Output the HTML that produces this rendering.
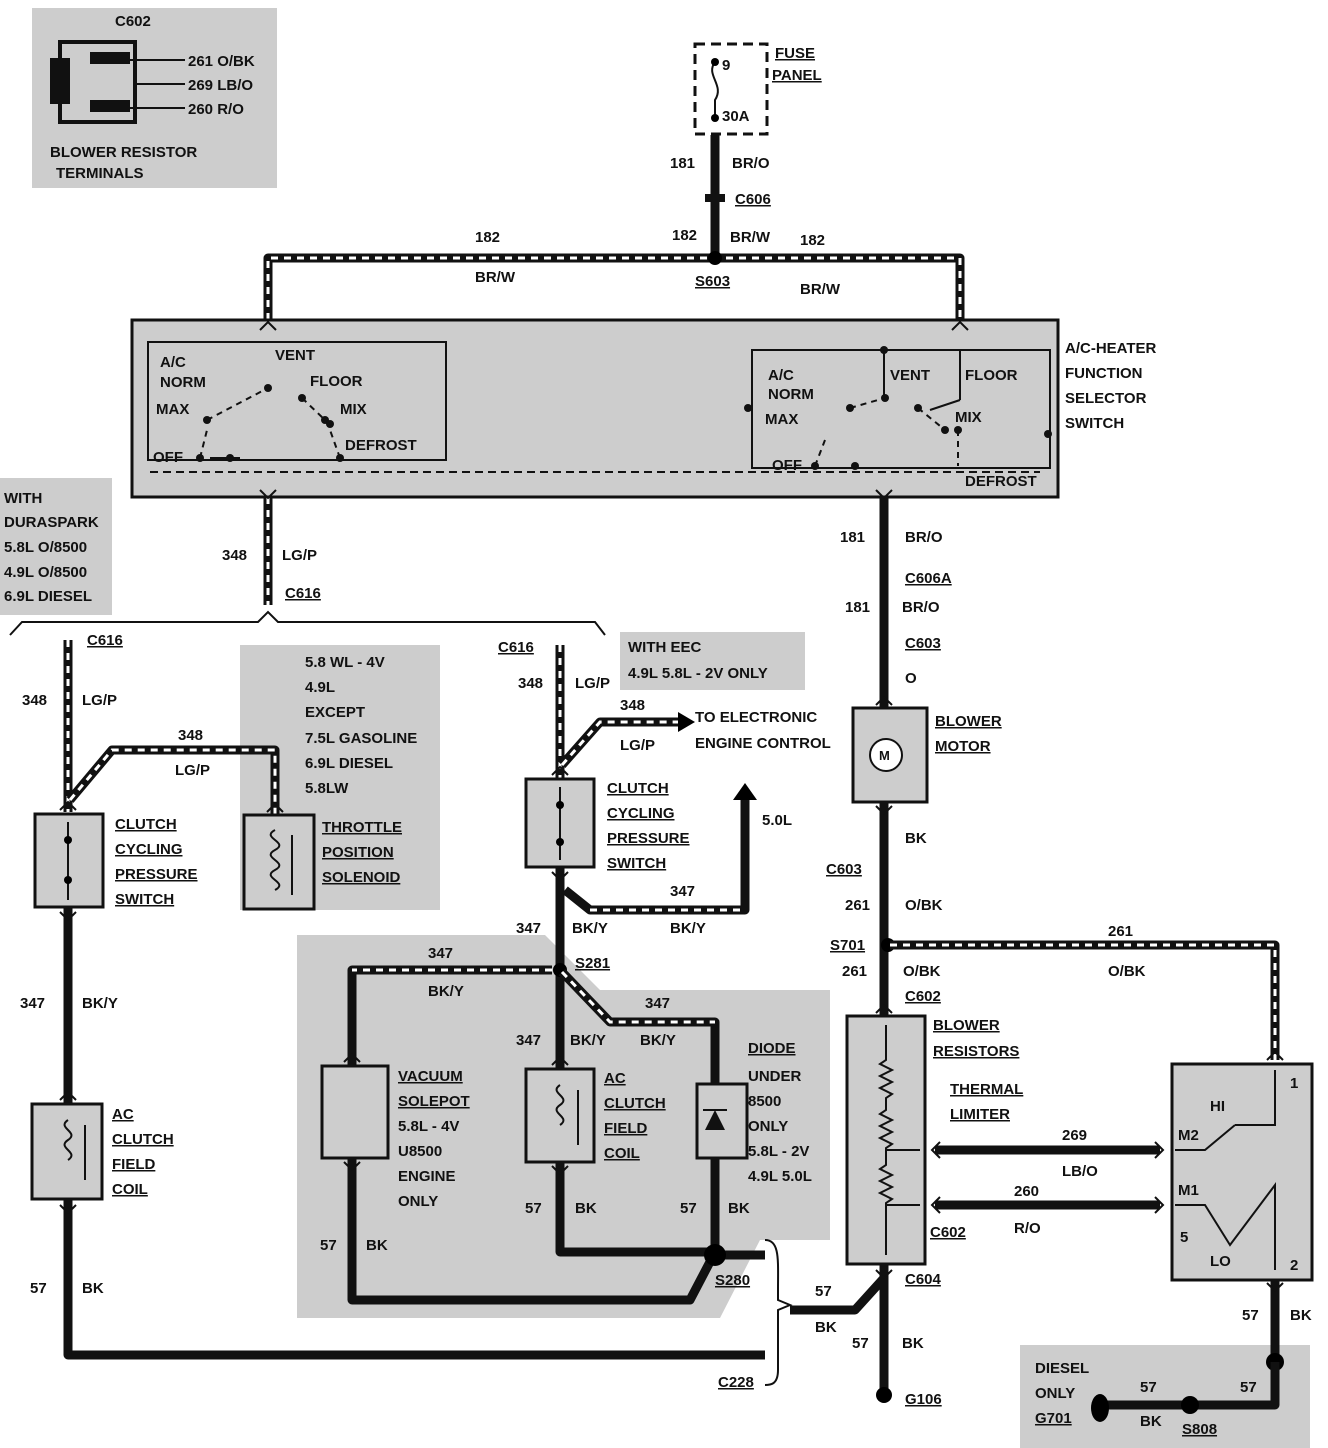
<!DOCTYPE html>
<html><head><meta charset="utf-8"><style>
html,body{margin:0;padding:0;background:#fff;}
svg{display:block;}
text{font-family:"Liberation Sans",sans-serif;font-weight:bold;font-size:15px;fill:#111;}
.u{text-decoration:underline;}
.w{fill:none;stroke:#111;stroke-width:9;stroke-linejoin:round;}
.s{fill:none;stroke:#fff;stroke-width:3;stroke-dasharray:7 6;}
.t{fill:none;stroke:#111;stroke-width:2;}
.sh{fill:#cdcdcd;}
.bx{fill:#cdcdcd;stroke:#111;stroke-width:3;}
</style></head><body>
<svg width="1328" height="1448" viewBox="0 0 1328 1448">
<rect class="sh" x="32" y="8" width="245" height="180"/>
<rect class="sh" x="0" y="478" width="112" height="137"/>
<rect class="sh" x="240" y="645" width="200" height="265"/>
<rect class="sh" x="620" y="632" width="185" height="58"/>
<path class="sh" d="M297 935 L545 935 L600 990 L830 990 L830 1240 L760 1240 L720 1318 L297 1318 Z"/>
<rect class="sh" x="1020" y="1345" width="290" height="103"/>
<rect x="60" y="42" width="75" height="80" fill="none" stroke="#111" stroke-width="4"/>
<rect x="50" y="58" width="20" height="46" fill="#111"/>
<rect x="90" y="52" width="40" height="12" fill="#111"/><rect x="90" y="100" width="40" height="12" fill="#111"/>
<line class="t" x1="130" y1="60" x2="185" y2="60"/><line class="t" x1="135" y1="84" x2="185" y2="84"/><line class="t" x1="130" y1="108" x2="185" y2="108"/>
<text x="115" y="26">C602</text>
<text x="188" y="66">261 O/BK</text><text x="188" y="90">269 LB/O</text><text x="188" y="114">260 R/O</text>
<text x="50" y="157">BLOWER RESISTOR</text><text x="56" y="178">TERMINALS</text>
<rect x="695" y="44" width="72" height="90" fill="none" stroke="#111" stroke-width="3" stroke-dasharray="10 6"/>
<path d="M715 62 C705 75,725 85,715 100 L715 118" class="t"/>
<circle cx="715" cy="62" r="4"/><circle cx="715" cy="118" r="4"/>
<text x="722" y="70">9</text><text x="722" y="121">30A</text>
<text class="u" x="775" y="58">FUSE</text><text class="u" x="772" y="80">PANEL</text>
<line class="w" x1="715" y1="135" x2="715" y2="258"/>
<text x="670" y="168">181</text><text x="732" y="168">BR/O</text>
<rect x="705" y="194" width="20" height="8" fill="#111"/>
<text class="u" x="735" y="204">C606</text>
<text x="672" y="240">182</text><text x="730" y="242">BR/W</text>
<path class="w" d="M268 320 L268 258 L960 258 L960 320"/>
<path class="s" d="M268 320 L268 258 L960 258 L960 320"/>
<circle cx="715" cy="258" r="7"/>
<text x="475" y="242">182</text><text x="475" y="282">BR/W</text>
<text class="u" x="695" y="286">S603</text>
<text x="800" y="245">182</text><text x="800" y="294">BR/W</text>
<rect class="bx" x="132" y="320" width="926" height="177"/>
<rect x="148" y="342" width="298" height="118" fill="none" stroke="#111" stroke-width="2"/>
<rect x="752" y="350" width="298" height="118" fill="none" stroke="#111" stroke-width="2"/>
<text x="160" y="367">A/C</text><text x="160" y="387">NORM</text><text x="156" y="414">MAX</text><text x="153" y="462">OFF</text>
<text x="275" y="360">VENT</text><text x="310" y="386">FLOOR</text><text x="340" y="414">MIX</text><text x="345" y="450">DEFROST</text>
<text x="768" y="380">A/C</text><text x="768" y="399">NORM</text><text x="765" y="424">MAX</text><text x="772" y="470">OFF</text>
<text x="890" y="380">VENT</text><text x="965" y="380">FLOOR</text><text x="955" y="422">MIX</text><text x="965" y="486">DEFROST</text>
<path class="t" stroke-dasharray="8 5" d="M150 472 L1040 472"/>
<path class="t" stroke-dasharray="6 5" d="M207 420 L268 388 M302 398 L325 420 M200 458 L207 430 M340 458 L330 430 M850 408 L885 398 M918 408 L945 430 M815 466 L825 440 M958 430 L958 466"/>
<path class="t" d="M884 350 L884 398 M960 350 L960 400 M960 400 L930 410 M210 458 L240 458"/>
<g fill="#111"><circle cx="207" cy="420" r="4"/><circle cx="268" cy="388" r="4"/><circle cx="302" cy="398" r="4"/><circle cx="325" cy="420" r="4"/><circle cx="200" cy="458" r="4"/><circle cx="230" cy="458" r="4"/><circle cx="340" cy="458" r="4"/><circle cx="330" cy="424" r="4"/>
<circle cx="850" cy="408" r="4"/><circle cx="885" cy="398" r="4"/><circle cx="918" cy="408" r="4"/><circle cx="945" cy="430" r="4"/><circle cx="815" cy="466" r="4"/><circle cx="855" cy="466" r="4"/><circle cx="748" cy="408" r="4"/><circle cx="1048" cy="434" r="4"/><circle cx="884" cy="350" r="4"/><circle cx="958" cy="430" r="4"/></g>
<text x="1065" y="353">A/C-HEATER</text><text x="1065" y="378">FUNCTION</text><text x="1065" y="403">SELECTOR</text><text x="1065" y="428">SWITCH</text>
<path class="w" d="M268 497 L268 605"/><path class="s" d="M268 497 L268 605"/>
<text x="222" y="560">348</text><text x="282" y="560">LG/P</text><text class="u" x="285" y="598">C616</text>
<text x="4" y="503">WITH</text><text x="4" y="527">DURASPARK</text><text x="4" y="552">5.8L O/8500</text><text x="4" y="577">4.9L O/8500</text><text x="4" y="601">6.9L DIESEL</text>
<path class="t" d="M10 635 L22 622 L258 622 L268 612 L278 622 L595 622 L605 635"/>
<path class="w" d="M68 640 L68 812"/><path class="s" d="M68 640 L68 812"/>
<text class="u" x="87" y="645">C616</text><text x="22" y="705">348</text><text x="82" y="705">LG/P</text>
<path class="w" d="M70 800 L112 750 L275 750 L275 815"/><path class="s" d="M70 800 L112 750 L275 750 L275 815"/>
<text x="178" y="740">348</text><text x="175" y="775">LG/P</text>
<rect class="bx" x="35" y="814" width="68" height="93"/>
<path class="t" d="M68 822 L68 900"/><circle cx="68" cy="840" r="4"/><circle cx="68" cy="880" r="4"/>
<text class="u" x="115" y="829">CLUTCH</text><text class="u" x="115" y="854">CYCLING</text><text class="u" x="115" y="879">PRESSURE</text><text class="u" x="115" y="904">SWITCH</text>
<rect class="bx" x="244" y="815" width="70" height="94"/>
<path class="t" d="M275 830 c-15 8,15 12,0 20 c-15 8,15 12,0 20 c-15 8,15 12,0 20"/>
<line class="t" x1="292" y1="835" x2="292" y2="895"/>
<text class="u" x="322" y="832">THROTTLE</text><text class="u" x="322" y="857">POSITION</text><text class="u" x="322" y="882">SOLENOID</text>
<text x="305" y="667">5.8 WL - 4V</text><text x="305" y="692">4.9L</text><text x="305" y="717">EXCEPT</text><text x="305" y="743">7.5L GASOLINE</text><text x="305" y="768">6.9L DIESEL</text><text x="305" y="793">5.8LW</text>
<path class="w" d="M68 908 L68 1105"/>
<text x="20" y="1008">347</text><text x="82" y="1008">BK/Y</text>
<rect class="bx" x="32" y="1104" width="70" height="95"/>
<path class="t" d="M68 1120 c-12 8,12 12,0 20 c-12 8,12 12,0 20"/><line class="t" x1="85" y1="1125" x2="85" y2="1180"/>
<text class="u" x="112" y="1119">AC</text><text class="u" x="112" y="1144">CLUTCH</text><text class="u" x="112" y="1169">FIELD</text><text class="u" x="112" y="1194">COIL</text>
<path class="w" d="M68 1200 L68 1355 L765 1355"/>
<text x="30" y="1293">57</text><text x="82" y="1293">BK</text>
<path class="w" d="M560 645 L560 778"/><path class="s" d="M560 645 L560 778"/>
<text class="u" x="498" y="652">C616</text><text x="518" y="688">348</text><text x="575" y="688">LG/P</text>
<path class="w" d="M562 765 L600 722 L680 722"/><path class="s" d="M562 765 L600 722 L680 722"/>
<polygon points="678,712 695,722 678,732"/>
<text x="620" y="710">348</text><text x="620" y="750">LG/P</text>
<text x="628" y="652">WITH EEC</text><text x="628" y="678">4.9L 5.8L - 2V ONLY</text>
<text x="695" y="722">TO ELECTRONIC</text><text x="695" y="748">ENGINE CONTROL</text>
<rect class="bx" x="526" y="779" width="68" height="88"/>
<path class="t" d="M560 787 L560 860"/><circle cx="560" cy="805" r="4"/><circle cx="560" cy="842" r="4"/>
<text class="u" x="607" y="793">CLUTCH</text><text class="u" x="607" y="818">CYCLING</text><text class="u" x="607" y="843">PRESSURE</text><text class="u" x="607" y="868">SWITCH</text>
<path class="w" d="M560 868 L560 1068"/>
<path class="w" d="M565 890 L590 910 L745 910 L745 795"/><path class="s" d="M590 910 L745 910"/>
<polygon points="733,800 745,783 757,800"/>
<text x="762" y="825">5.0L</text><text x="670" y="896">347</text><text x="670" y="933">BK/Y</text>
<text x="516" y="933">347</text><text x="572" y="933">BK/Y</text>
<circle cx="560" cy="970" r="7"/><text class="u" x="575" y="968">S281</text>
<path class="w" d="M552 970 L352 970 L352 1065"/><path class="s" d="M552 970 L352 970"/>
<text x="428" y="958">347</text><text x="428" y="996">BK/Y</text>
<path class="w" d="M562 972 L610 1022 L715 1022 L715 1085"/><path class="s" d="M562 972 L610 1022 L715 1022"/>
<text x="645" y="1008">347</text><text x="640" y="1045">BK/Y</text>
<text x="516" y="1045">347</text><text x="570" y="1045">BK/Y</text>
<rect class="bx" x="322" y="1066" width="66" height="92"/>
<text class="u" x="398" y="1081">VACUUM</text><text class="u" x="398" y="1106">SOLEPOT</text><text x="398" y="1131">5.8L - 4V</text><text x="398" y="1156">U8500</text><text x="398" y="1181">ENGINE</text><text x="398" y="1206">ONLY</text>
<rect class="bx" x="526" y="1069" width="68" height="93"/>
<path class="t" d="M560 1085 c-12 8,12 12,0 20 c-12 8,12 12,0 20"/><line class="t" x1="578" y1="1090" x2="578" y2="1145"/>
<text class="u" x="604" y="1083">AC</text><text class="u" x="604" y="1108">CLUTCH</text><text class="u" x="604" y="1133">FIELD</text><text class="u" x="604" y="1158">COIL</text>
<rect class="bx" x="697" y="1084" width="50" height="74"/>
<polygon points="705,1130 725,1130 715,1110" fill="#111"/><line class="t" x1="703" y1="1110" x2="727" y2="1110"/>
<text class="u" x="748" y="1053">DIODE</text><text x="748" y="1081">UNDER</text><text x="748" y="1106">8500</text><text x="748" y="1131">ONLY</text><text x="748" y="1156">5.8L - 2V</text><text x="748" y="1181">4.9L 5.0L</text>
<path class="w" d="M560 1162 L560 1252 L712 1252"/>
<path class="w" d="M715 1158 L715 1255"/>
<path class="w" d="M352 1158 L352 1300 L690 1300 L712 1258"/>
<path class="w" d="M715 1255 L765 1255"/>
<circle cx="715" cy="1255" r="11"/>
<text x="525" y="1213">57</text><text x="575" y="1213">BK</text><text x="680" y="1213">57</text><text x="728" y="1213">BK</text>
<text x="320" y="1250">57</text><text x="366" y="1250">BK</text>
<text class="u" x="715" y="1285">S280</text>
<path class="t" stroke-width="3" d="M765 1240 C780 1240,778 1260,778 1290 L778 1300 L790 1305 L778 1310 L778 1370 C778 1385,770 1385,765 1385"/>
<text class="u" x="718" y="1387">C228</text>
<path class="w" d="M884 497 L884 708"/>
<text x="840" y="542">181</text><text x="905" y="542">BR/O</text>
<text class="u" x="905" y="583">C606A</text><text x="845" y="612">181</text><text x="902" y="612">BR/O</text>
<text class="u" x="905" y="648">C603</text><text x="905" y="683">O</text>
<rect class="bx" x="853" y="708" width="74" height="94"/>
<circle cx="886" cy="755" r="16" fill="#fff" stroke="#111" stroke-width="2"/><text x="879" y="760" style="font-size:13px">M</text>
<text class="u" x="935" y="726">BLOWER</text><text class="u" x="935" y="751">MOTOR</text>
<path class="w" d="M884 802 L884 1018"/>
<text x="905" y="843">BK</text><text class="u" x="826" y="874">C603</text>
<text x="845" y="910">261</text><text x="905" y="910">O/BK</text>
<circle cx="888" cy="945" r="7"/><text class="u" x="830" y="950">S701</text>
<path class="w" d="M890 945 L1275 945 L1275 1060"/><path class="s" d="M890 945 L1275 945 L1275 1060"/>
<text x="1108" y="936">261</text><text x="1108" y="976">O/BK</text>
<text x="842" y="976">261</text><text x="903" y="976">O/BK</text><text class="u" x="905" y="1001">C602</text>
<rect class="bx" x="847" y="1016" width="78" height="248"/>
<path class="t" d="M886 1025 L886 1060 l-6 4 l12 6 l-12 6 l12 6 l-12 6 l12 6 l-6 4 L886 1110 l-6 4 l12 6 l-12 6 l12 6 l-12 6 l12 6 l-6 4 L886 1165 l-6 4 l12 6 l-12 6 l12 6 l-12 6 l12 6 l-6 4 L886 1255 M886 1150 L920 1150 M886 1205 L920 1205"/>
<text class="u" x="933" y="1030">BLOWER</text><text class="u" x="933" y="1056">RESISTORS</text>
<text class="u" x="950" y="1094">THERMAL</text><text class="u" x="950" y="1119">LIMITER</text>
<path class="w" d="M935 1150 L1160 1150"/><path class="w" d="M935 1205 L1160 1205"/>
<text x="1062" y="1140">269</text><text x="1062" y="1176">LB/O</text>
<text x="1014" y="1196">260</text><text x="1014" y="1233">R/O</text>
<text class="u" x="930" y="1237">C602</text>
<rect class="bx" x="1172" y="1064" width="140" height="216"/>
<path class="t" d="M1275 1070 L1275 1125 L1235 1125 M1175 1150 L1205 1150 L1235 1125 M1175 1205 L1205 1205 L1230 1245 L1275 1185 L1275 1270"/>
<text x="1210" y="1111">HI</text><text x="1178" y="1140">M2</text><text x="1178" y="1195">M1</text><text x="1180" y="1242">5</text><text x="1210" y="1266">LO</text><text x="1290" y="1088">1</text><text x="1290" y="1270">2</text>
<path class="w" d="M884 1265 L884 1390"/>
<path class="w" d="M790 1310 L855 1310 L884 1278"/>
<text class="u" x="905" y="1284">C604</text>
<text x="815" y="1296">57</text><text x="815" y="1332">BK</text>
<text x="852" y="1348">57</text><text x="902" y="1348">BK</text>
<circle cx="884" cy="1395" r="8"/><text class="u" x="905" y="1404">G106</text>
<path class="w" d="M1275 1280 L1275 1360"/><text x="1242" y="1320">57</text><text x="1290" y="1320">BK</text>
<circle cx="1275" cy="1362" r="9"/>
<path class="w" d="M1275 1362 L1275 1405 L1100 1405"/>
<ellipse cx="1100" cy="1408" rx="9" ry="14"/><circle cx="1190" cy="1405" r="9"/>
<text x="1035" y="1373">DIESEL</text><text x="1035" y="1398">ONLY</text><text class="u" x="1035" y="1423">G701</text>
<text x="1140" y="1392">57</text><text x="1140" y="1426">BK</text><text x="1240" y="1392">57</text><text class="u" x="1182" y="1434">S808</text>
<g class="t" stroke-width="2.5">
<path d="M260 330 l8 -8 l8 8 M260 490 l8 8 l8 -8 M952 330 l8 -8 l8 8 M876 490 l8 8 l8 -8 M60 810 l8 -8 l8 8 M60 912 l8 8 l8 -8 M60 1100 l8 -8 l8 8 M60 1205 l8 8 l8 -8 M267 812 l8 -8 l8 8 M552 775 l8 -8 l8 8 M552 872 l8 8 l8 -8 M552 1065 l8 -8 l8 8 M552 1166 l8 8 l8 -8 M344 1062 l8 -8 l8 8 M344 1162 l8 8 l8 -8 M876 705 l8 -8 l8 8 M876 806 l8 8 l8 -8 M876 1013 l8 -8 l8 8 M876 1270 l8 8 l8 -8 M1267 1060 l8 -8 l8 8 M1267 1283 l8 8 l8 -8 M940 1142 l-8 8 l8 8 M940 1197 l-8 8 l8 8 M1155 1142 l8 8 l-8 8 M1155 1197 l8 8 l-8 8"/>
</g>
</svg>
</body></html>
